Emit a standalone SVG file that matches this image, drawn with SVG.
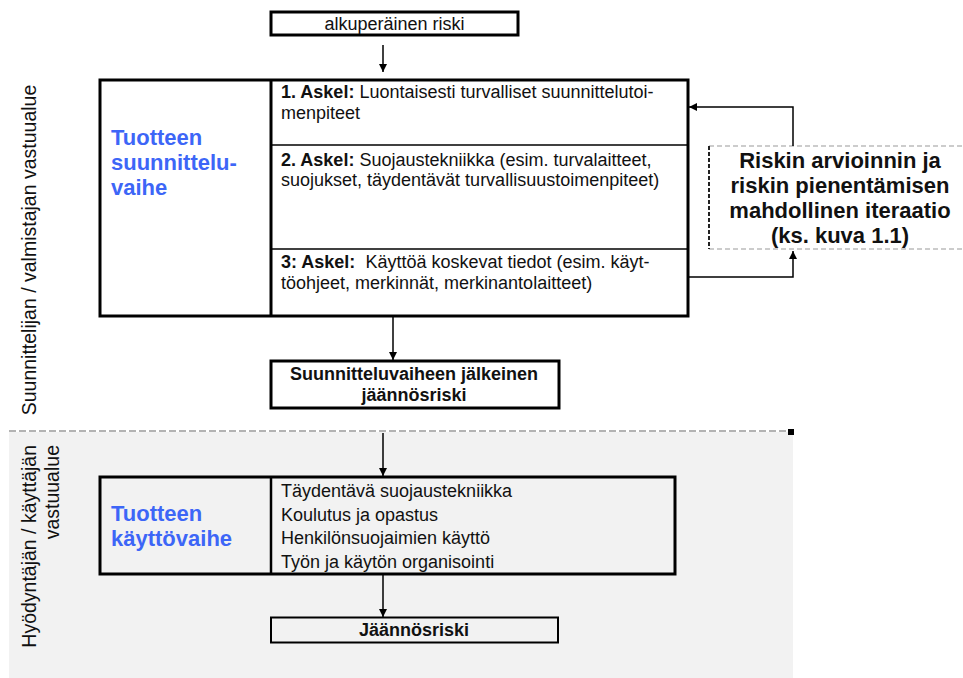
<svg xmlns="http://www.w3.org/2000/svg" width="963" height="678" viewBox="0 0 963 678">
  <style>
    text { font-family: "Liberation Sans", Arial, sans-serif; fill: #111; }
    .t { font-size: 18px; }
    .b { font-size: 18px; font-weight: bold; }
    .big { font-size: 22px; font-weight: bold; }
    .blue { font-size: 22px; font-weight: bold; fill: #3d66f7; }
    .side { font-size: 19.5px; }
    .box { fill: none; stroke: #000; stroke-width: 3; }
    .thin { stroke: #000; stroke-width: 1.5; fill: none; }
    .conn { stroke: #000; stroke-width: 1.5; fill: none; }
  </style>
  <defs>
    <marker id="arr" viewBox="0 0 10 10" refX="10" refY="5" markerWidth="8" markerHeight="8" markerUnits="userSpaceOnUse" orient="auto">
      <path d="M0,0 L10,5 L0,10 z" fill="#000"/>
    </marker>
  </defs>

  <!-- user-side band -->
  <rect x="9" y="432" width="784" height="246" fill="#f2f2f2"/>
  <line x1="9" y1="431" x2="788" y2="431" stroke="#9a9a9a" stroke-width="1.5" stroke-dasharray="7 3"/>
  <rect x="788" y="429" width="6" height="6" fill="#000"/>

  <!-- responsibility labels -->
  <text class="side" text-anchor="middle" transform="translate(36,250) rotate(-90)">Suunnittelijan / valmistajan vastuualue</text>
  <text class="side" text-anchor="end" transform="translate(36,445) rotate(-90)">Hyödyntäjän / käyttäjän</text>
  <text class="side" text-anchor="end" transform="translate(59,445) rotate(-90)">vastuualue</text>

  <g id="alkuperainen">
    <rect class="box" x="271" y="12" width="247" height="23"/>
    <text class="t" x="394.5" y="29.5" text-anchor="middle">alkuperäinen riski</text>
  </g>

  <g id="suunnitteluvaihe">
    <rect class="box" x="100" y="80" width="588" height="236"/>
    <line x1="271" y1="80" x2="271" y2="316" stroke="#000" stroke-width="3"/>
    <line class="thin" x1="271" y1="145" x2="688" y2="145"/>
    <line class="thin" x1="271" y1="249" x2="688" y2="249"/>
    <text class="blue" x="111" y="144.5">Tuotteen</text>
    <text class="blue" x="111" y="169.5">suunnittelu-</text>
    <text class="blue" x="111" y="194.5">vaihe</text>
    <text class="t" x="281" y="98"><tspan font-weight="bold">1. Askel:</tspan> Luontaisesti turvalliset suunnittelutoi-</text>
    <text class="t" x="281" y="118.5">menpiteet</text>
    <text class="t" x="281" y="166"><tspan font-weight="bold">2. Askel:</tspan> Suojaustekniikka (esim. turvalaitteet,</text>
    <text class="t" x="281" y="186">suojukset, täydentävät turvallisuustoimenpiteet)</text>
    <text class="t" x="281" y="268" xml:space="preserve"><tspan font-weight="bold">3: Askel:</tspan>  Käyttöä koskevat tiedot (esim. käyt-</text>
    <text class="t" x="281" y="288.5">töohjeet, merkinnät, merkinantolaitteet)</text>
  </g>

  <g id="iteraatio">
    <line x1="709" y1="146" x2="963" y2="146" stroke="#999" stroke-width="1.2" stroke-dasharray="5 3"/>
    <line x1="709" y1="249" x2="963" y2="249" stroke="#999" stroke-width="1.2" stroke-dasharray="5 3"/>
    <line x1="709" y1="146" x2="709" y2="249" stroke="#222" stroke-width="2" stroke-dasharray="4 2"/>
    <text class="big" x="840" y="167.5" text-anchor="middle">Riskin arvioinnin ja</text>
    <text class="big" x="840" y="192.5" text-anchor="middle">riskin pienentämisen</text>
    <text class="big" x="840" y="217.5" text-anchor="middle">mahdollinen iteraatio</text>
    <text class="big" x="840" y="242.5" text-anchor="middle">(ks. kuva 1.1)</text>
  </g>

  <g id="jalkeinen">
    <rect class="box" x="271" y="361" width="288" height="47"/>
    <text class="b" x="414" y="380" text-anchor="middle">Suunnitteluvaiheen jälkeinen</text>
    <text class="b" x="414" y="401" text-anchor="middle">jäännösriski</text>
  </g>

  <g id="kayttovaihe">
    <rect class="box" x="100" y="477" width="575" height="97"/>
    <line x1="271" y1="477" x2="271" y2="574" stroke="#000" stroke-width="2.5"/>
    <text class="blue" x="111" y="521">Tuotteen</text>
    <text class="blue" x="111" y="546">käyttövaihe</text>
    <text class="t" x="281" y="497">Täydentävä suojaustekniikka</text>
    <text class="t" x="281" y="520.5">Koulutus ja opastus</text>
    <text class="t" x="281" y="544">Henkilönsuojaimien käyttö</text>
    <text class="t" x="281" y="567.5">Työn ja käytön organisointi</text>
  </g>

  <g id="jaannosriski">
    <rect x="271" y="617.5" width="287" height="25" fill="none" stroke="#000" stroke-width="2"/>
    <text class="b" x="414" y="636" text-anchor="middle">Jäännösriski</text>
  </g>

  <g id="connectors">
    <line class="conn" x1="383" y1="45" x2="383" y2="72" marker-end="url(#arr)"/>
    <line class="conn" x1="393" y1="317" x2="393" y2="360" marker-end="url(#arr)"/>
    <line class="conn" x1="383" y1="433" x2="383" y2="476" marker-end="url(#arr)"/>
    <line class="conn" x1="383" y1="575" x2="383" y2="617" marker-end="url(#arr)"/>
    <polyline class="conn" points="793,146 793,107 689,107" marker-end="url(#arr)"/>
    <polyline class="conn" points="689,277 793,277 793,251" marker-end="url(#arr)"/>
  </g>
</svg>
